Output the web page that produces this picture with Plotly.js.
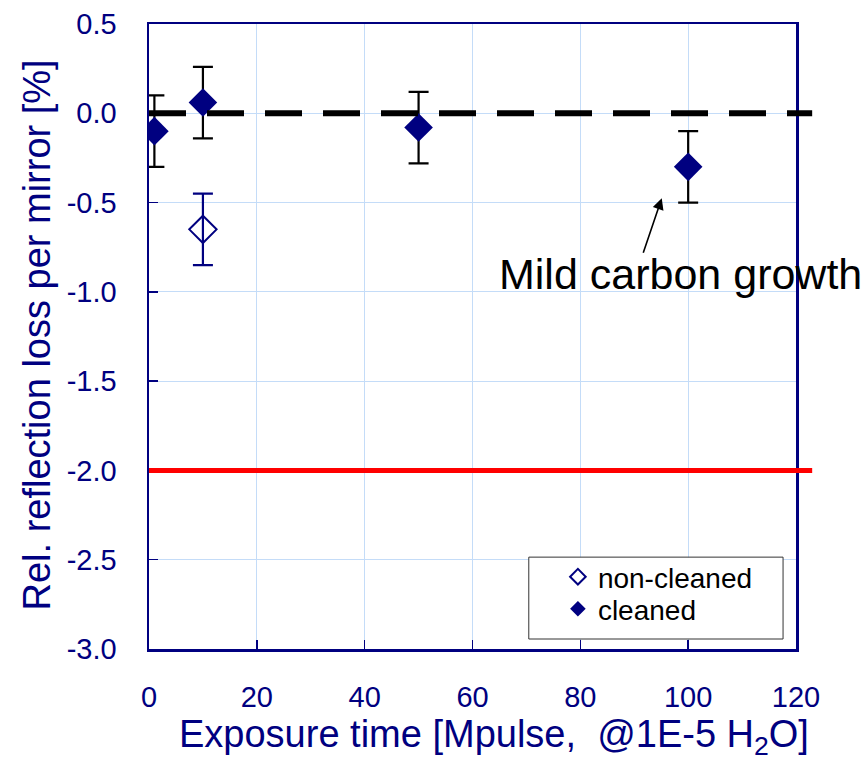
<!DOCTYPE html>
<html>
<head>
<meta charset="utf-8">
<script src="https://cdn.plot.ly/plotly-3.0.1.min.js"></script>
<style>html,body{margin:0;padding:0;background:#fff;}#chart{width:868px;height:762px;}</style>
</head>
<body>
<div id="chart"></div>
<script>
// Data
const cleanedX = [1, 10, 50, 100];
const cleanedY = [-0.10, 0.06, -0.08, -0.30];
const cleanedErr = [0.2, 0.2, 0.2, 0.2];
const nonCleanedX = [10];
const nonCleanedY = [-0.65];
const nonCleanedErr = [0.2];
const baselineY = 0.0;
const limitY = -2.0;
const xTicks = [0, 20, 40, 60, 80, 100, 120];
const yTicks = [0.5, 0.0, -0.5, -1.0, -1.5, -2.0, -2.5, -3.0];
const seriesNames = ['non-cleaned', 'cleaned'];
const xTitle = 'Exposure time [Mpulse,  @1E-5 H<sub>2</sub>O]';
const yTitle = 'Rel. reflection loss per mirror [%]';
const annotText = 'Mild carbon growth';
const annotPoint = [95.1, -0.476];

const navy = '#000080';
const font = 'Liberation Sans, Arial, sans-serif';

const traces = [
  {
    x: nonCleanedX, y: nonCleanedY, name: seriesNames[0], type: 'scatter', mode: 'markers',
    legend: 'legend',
    marker: {symbol: 'diamond-open', size: 21, color: navy, line: {width: 2, color: navy}},
    error_y: {type: 'data', array: nonCleanedErr, visible: true, color: navy, thickness: 2.2, width: 10}
  },
  {
    x: cleanedX, y: cleanedY, name: seriesNames[1], type: 'scatter', mode: 'markers',
    legend: 'legend2',
    marker: {symbol: 'diamond', size: 22, color: navy, line: {width: 0}},
    error_y: {type: 'data', array: cleanedErr, visible: true, color: '#000000', thickness: 2.2, width: 10}
  }
];

const legendStyle = {
  xanchor: 'left', yanchor: 'middle',
  bgcolor: 'rgba(0,0,0,0)', borderwidth: 0,
  font: {family: font, size: 28, color: '#000000'},
  itemsizing: 'constant'
};

const layout = {
  width: 868, height: 762,
  margin: {l: 149, r: 72, t: 24, b: 113},
  paper_bgcolor: '#ffffff', plot_bgcolor: '#ffffff',
  font: {family: font, color: navy},
  showlegend: true,
  legend: Object.assign({x: 0.632, y: 0.1152}, legendStyle),
  legend2: Object.assign({x: 0.632, y: 0.064}, legendStyle),
  xaxis: {
    range: [0, 120], tickvals: xTicks, ticktext: xTicks.map(String),
    showgrid: true, gridcolor: '#c4dcf8', gridwidth: 1, zeroline: false,
    showline: true, linecolor: navy, linewidth: 2.5, mirror: true,
    ticks: 'inside', ticklen: 9, tickwidth: 1.5, tickcolor: navy,
    tickfont: {family: font, size: 29, color: navy},
    ticklabelstandoff: 21
  },
  yaxis: {
    range: [-3.0, 0.5], tickvals: yTicks, ticktext: yTicks.map(v => v.toFixed(1)),
    showgrid: true, gridcolor: '#c4dcf8', gridwidth: 1, zeroline: false,
    showline: true, linecolor: navy, linewidth: 2.5, mirror: true,
    ticks: 'inside', ticklen: 9, tickwidth: 1.5, tickcolor: navy,
    tickfont: {family: font, size: 29, color: navy},
    ticklabelstandoff: 24
  },
  shapes: [
    {type: 'line', xref: 'paper', yref: 'y', x0: 0, x1: 1.025, y0: baselineY, y1: baselineY,
     line: {color: '#000000', width: 6, dash: '37px,21px'}, layer: 'above'},
    {type: 'line', xref: 'paper', yref: 'y', x0: 0, x1: 1.025, y0: limitY, y1: limitY,
     line: {color: '#ff0000', width: 5}, layer: 'above'},
    {type: 'rect', xref: 'paper', yref: 'paper', x0: 0.587, x1: 0.980, y0: 0.016, y1: 0.147,
     line: {color: '#333333', width: 1}, fillcolor: '#ffffff', layer: 'above'}
  ],
  annotations: [
    {x: annotPoint[0], y: annotPoint[1], xref: 'x', yref: 'y', text: '', showarrow: true,
     arrowhead: 2, arrowsize: 1.4, arrowwidth: 1.6, arrowcolor: '#000000', ax: -19, ay: 56, standoff: 0},
    {x: 64.5, y: -0.90, xref: 'x', yref: 'y', text: annotText, showarrow: false,
     xanchor: 'left', yanchor: 'middle', font: {family: font, size: 43, color: '#000000'}},
    {x: 0.533, y: -0.1408, xref: 'paper', yref: 'paper', text: xTitle, showarrow: false,
     xanchor: 'center', yanchor: 'middle', font: {family: font, size: 38, color: navy}},
    {x: -0.1731, y: 0.5016, xref: 'paper', yref: 'paper', text: yTitle, showarrow: false, textangle: -90,
     xanchor: 'center', yanchor: 'middle', font: {family: font, size: 38, color: navy}}
  ]
};

Plotly.newPlot('chart', traces, layout, {displayModeBar: false, staticPlot: true});
</script>
</body>
</html>
